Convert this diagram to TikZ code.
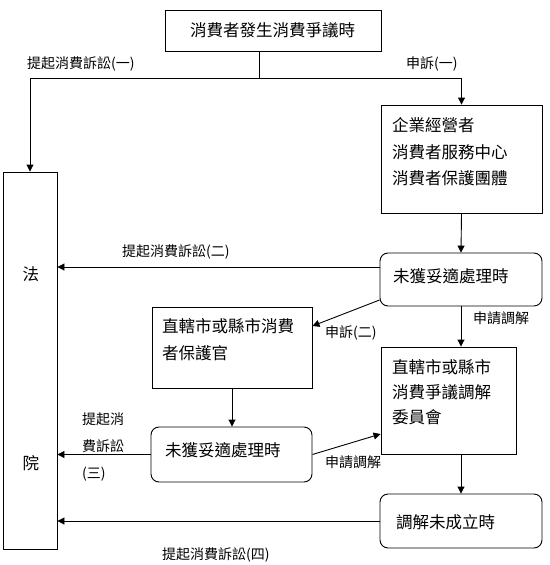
\documentclass[tikz,border=0pt]{standalone}
\usepackage{fontspec}
\setmainfont{Noto Sans CJK TC}
\usetikzlibrary{arrows.meta,calc}
\begin{document}
\begin{tikzpicture}[x=1pt,y=-1pt,
  box/.style={draw, line width=0.9pt, inner sep=0pt},
  rbox/.style={box, rounded corners=8pt},
  big/.style={font=\fontsize{16.5}{26.5}\selectfont, inner sep=0pt, align=left, anchor=west},
  bigm/.style={font=\fontsize{16.5}{25}\selectfont, inner sep=0pt, align=left, anchor=west},
  lab/.style={font=\fontsize{14}{27}\selectfont, inner sep=0pt, align=left, anchor=west},
  conn/.style={line width=0.9pt},
  arr/.style={conn, -{Triangle[length=7pt,width=7pt]}}
]
\useasboundingbox (0,0) rectangle (549,565);

% boxes
\node[box, minimum width=216pt, minimum height=41pt] (top) at (273,30.5) {};
\node[box, minimum width=54pt, minimum height=377pt] (law) at (30,360.5) {};
\node[box, minimum width=161pt, minimum height=108pt] (biz) at (461.5,159) {};
\node[rbox, minimum width=162pt, minimum height=53pt] (un1) at (461,279.5) {};
\node[box, minimum width=160pt, minimum height=81pt] (prot) at (232,347.5) {};
\node[rbox, minimum width=161pt, minimum height=55pt] (un2) at (231.5,454.5) {};
\node[box, minimum width=135pt, minimum height=107pt] (med) at (448.5,400.5) {};
\node[rbox, minimum width=162pt, minimum height=54pt] (fail) at (461,521) {};

% texts
\node[big, anchor=center] (topt) at (272.5,30.5) {消費者發生消費爭議時};
\node[big, anchor=center] (law1) at (31,274) {法};
\node[big, anchor=center] (law2) at (31,463) {院};
\node[big] (bizt) at (392,152) {企業經營者\\消費者服務中心\\消費者保護團體};
\node[big] (un1t) at (393,276) {未獲妥適處理時};
\node[big] (prott) at (162,339.5) {直轄市或縣市消費\\者保護官};
\node[big] (un2t) at (165,450) {未獲妥適處理時};
\node[bigm] (medt) at (392,392) {直轄市或縣市\\消費爭議調解\\委員會};
\node[big] (failt) at (396,522) {調解未成立時};

% connectors
\coordinate (j) at (259,78);
\draw[conn] (top.south -| j) -- (j);
\draw[arr] (j) -| (law.north);
\draw[arr] (j) -| (biz.north);
\draw[arr] (biz.south) -- (un1.north);
\draw[arr] ([yshift=12.5pt]un1.west) coordinate (a2) -- (a2 -| law.east);
\draw[arr] ([yshift=-20.5pt]un1.west) -- ([yshift=21.5pt]prot.east);
\draw[arr] (un1.south) -- (un1.south |- med.north);
\draw[arr] (prot.south) -- (prot.south |- un2.north);
\draw[arr] (un2.west) -- (un2.west -| law.east);
\draw[arr] (un2.east) -- ([yshift=-33.5pt]med.west);
\draw[arr] (fail.north |- med.south) -- (fail.north);
\draw[arr] (fail.west) -- (fail.west -| law.east);

% labels
\node[lab] (l1) at (27,64) {提起消費訴訟(一)};
\node[lab] (l2) at (406,64) {申訴(一)};
\node[lab] (l3) at (122,252) {提起消費訴訟(二)};
\node[lab] (l4) at (325,333) {申訴(二)};
\node[lab] (l5) at (473,318) {申請調解};
\node[lab] (l6) at (82,447) {提起消\\費訴訟\\(三)};
\node[lab] (l7) at (325,462) {申請調解};
\node[lab] (l8) at (162,555) {提起消費訴訟(四)};
\end{tikzpicture}
\end{document}
